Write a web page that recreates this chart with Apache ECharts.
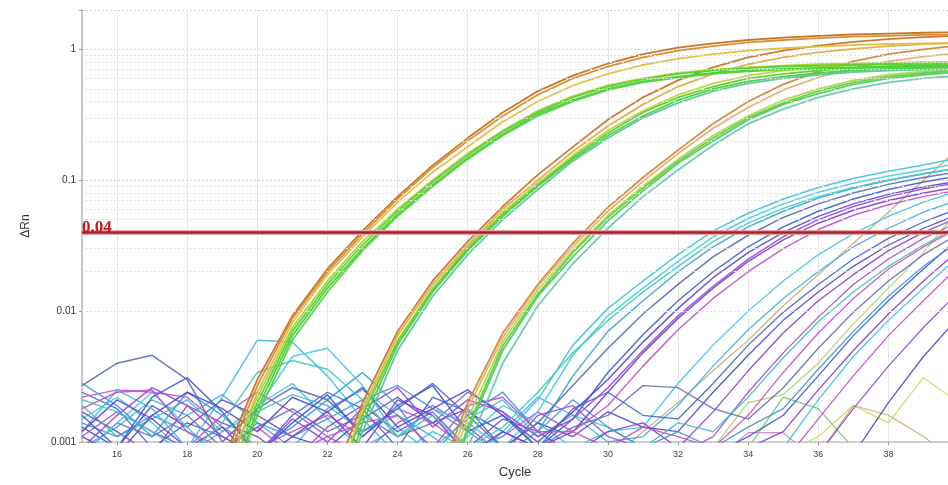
<!DOCTYPE html>
<html><head><meta charset="utf-8">
<script src="https://cdn.jsdelivr.net/npm/echarts@6/dist/echarts.min.js"></script>
<style>html,body{margin:0;padding:0;background:#fff}#c{width:948px;height:485px}</style>
</head><body><div id="c"></div>
<script>
// ---- data (each curve: [startCycle, values...]) ----
const xTicks = [16,18,20,22,24,26,28,30,32,34,36,38];
const yTicks = [0.001,0.01,0.1,1];
const threshold = 0.04;
const minorMultipliers = [2,3,4,5,6,7,8,9];

const groupA = [
  [19,0.0007,0.003,0.0092,0.021,0.041,0.075,0.13,0.21,0.33,0.48,0.63,0.78,0.92,1.03,1.11,1.18,1.23,1.27,1.3,1.32,1.34,1.35],
  [19,0.0006,0.0027,0.0088,0.02,0.039,0.072,0.125,0.2,0.31,0.45,0.6,0.74,0.87,0.98,1.06,1.13,1.18,1.22,1.25,1.27,1.29,1.3],
  [19,0.0005,0.0024,0.0082,0.019,0.037,0.068,0.115,0.18,0.28,0.4,0.53,0.65,0.76,0.85,0.92,0.98,1.02,1.05,1.08,1.1,1.11,1.12],
  [19,0.0005,0.0022,0.0075,0.017,0.034,0.06,0.1,0.16,0.24,0.34,0.44,0.53,0.6,0.66,0.7,0.73,0.75,0.77,0.78,0.79,0.8,0.8],
  [19,0.0004,0.002,0.007,0.016,0.032,0.058,0.097,0.155,0.235,0.33,0.43,0.52,0.59,0.65,0.69,0.72,0.74,0.75,0.76,0.77,0.77,0.78],
  [19,0.0003,0.0018,0.0065,0.015,0.03,0.055,0.092,0.148,0.225,0.32,0.41,0.5,0.57,0.62,0.66,0.69,0.71,0.72,0.73,0.74,0.74,0.75],
  [19,0.0003,0.0016,0.006,0.014,0.029,0.053,0.09,0.145,0.22,0.31,0.4,0.49,0.56,0.61,0.65,0.68,0.7,0.71,0.72,0.73,0.73,0.74]
];
const groupB = [
  [22,0.0004,0.002,0.007,0.017,0.034,0.063,0.11,0.18,0.29,0.43,0.58,0.73,0.87,0.98,1.07,1.14,1.2,1.24,1.27],
  [22,0.0003,0.0018,0.0065,0.016,0.032,0.06,0.1,0.165,0.26,0.38,0.52,0.65,0.77,0.87,0.95,1.01,1.06,1.1,1.12],
  [22,0.0003,0.0017,0.006,0.015,0.031,0.057,0.095,0.155,0.24,0.34,0.45,0.55,0.63,0.69,0.73,0.76,0.78,0.79,0.8],
  [22,0.0003,0.0016,0.0058,0.0145,0.03,0.055,0.092,0.15,0.23,0.33,0.43,0.52,0.6,0.65,0.69,0.72,0.74,0.75,0.76],
  [22,0.0002,0.0014,0.0055,0.014,0.029,0.053,0.09,0.145,0.22,0.31,0.41,0.5,0.57,0.62,0.66,0.69,0.71,0.72,0.73],
  [22,0.0002,0.0012,0.005,0.013,0.027,0.05,0.085,0.14,0.21,0.3,0.39,0.48,0.55,0.6,0.64,0.67,0.69,0.7,0.71]
];
const groupC = [
  [25,0.0004,0.002,0.0068,0.016,0.033,0.062,0.105,0.17,0.27,0.4,0.54,0.68,0.81,0.92,1.0,1.07],
  [25,0.0003,0.0018,0.0063,0.0155,0.031,0.058,0.098,0.16,0.25,0.36,0.49,0.61,0.72,0.81,0.88,0.94],
  [25,0.0003,0.0015,0.0058,0.0145,0.029,0.054,0.09,0.145,0.22,0.31,0.41,0.5,0.58,0.64,0.68,0.71],
  [25,0.0002,0.0013,0.0054,0.0135,0.028,0.052,0.087,0.14,0.21,0.3,0.39,0.48,0.56,0.62,0.66,0.69],
  [25,0.0002,0.0012,0.005,0.013,0.026,0.049,0.083,0.135,0.2,0.29,0.38,0.46,0.54,0.6,0.64,0.67],
  [25,0.0002,0.0009,0.004,0.011,0.023,0.043,0.075,0.12,0.185,0.27,0.35,0.43,0.5,0.56,0.6,0.63]
];
const groupD = [
  [15,0.0012,0.0025,0.0018,0.0009,0.0022,0.006,0.0058,0.0032,0.0015,0.0008,0.0012,0.0009,0.0011,0.0021,0.0055,0.0105,0.017,0.027,0.041,0.056,0.072,0.088,0.103,0.117,0.131,0.148],
  [15,0.0008,0.0014,0.0024,0.0013,0.0007,0.0018,0.0045,0.0052,0.0027,0.0011,0.0018,0.0014,0.0009,0.0017,0.0046,0.0092,0.015,0.024,0.037,0.051,0.066,0.081,0.095,0.108,0.12,0.135],
  [15,0.0028,0.0019,0.0011,0.0024,0.0016,0.0009,0.0013,0.0021,0.0034,0.0019,0.0008,0.0016,0.0024,0.0012,0.0032,0.007,0.012,0.02,0.031,0.044,0.058,0.073,0.087,0.1,0.112,0.124],
  [15,0.0027,0.004,0.0046,0.003,0.001,0.0018,0.0026,0.0021,0.0012,0.0018,0.0028,0.0016,0.0009,0.0014,0.0027,0.0052,0.0095,0.016,0.026,0.038,0.052,0.066,0.08,0.093,0.105,0.116],
  [15,0.0016,0.0009,0.0022,0.0031,0.0017,0.0008,0.0014,0.0023,0.0011,0.0019,0.0027,0.0012,0.0016,0.0009,0.0015,0.0034,0.0066,0.012,0.02,0.031,0.044,0.058,0.072,0.085,0.097,0.108],
  [15,0.0012,0.0021,0.0015,0.0009,0.0013,0.0007,0.0011,0.0017,0.0009,0.0021,0.0016,0.0008,0.0012,0.0009,0.0012,0.0024,0.0048,0.0088,0.015,0.024,0.035,0.047,0.059,0.07,0.08,0.089],
  [15,0.0009,0.0016,0.0026,0.0019,0.0011,0.0008,0.0015,0.001,0.0018,0.0026,0.0013,0.0021,0.0017,0.0011,0.0015,0.0026,0.005,0.0092,0.0155,0.025,0.037,0.05,0.063,0.075,0.086,0.096],
  [15,0.0018,0.0024,0.0025,0.0012,0.0009,0.0013,0.0008,0.0011,0.0014,0.0016,0.0009,0.0019,0.0022,0.0012,0.0012,0.0019,0.0038,0.0072,0.0125,0.02,0.03,0.042,0.054,0.065,0.075,0.084],
  [15,0.0011,0.0008,0.0016,0.0024,0.0018,0.0012,0.0022,0.0017,0.0026,0.0013,0.0018,0.0025,0.0016,0.001,0.0017,0.003,0.0058,0.0105,0.018,0.028,0.04,0.053,0.066,0.078,0.089,0.099],
  [15,0.0021,0.0017,0.0012,0.0008,0.0014,0.0034,0.0042,0.0036,0.0021,0.0011,0.0016,0.0009,0.0013,0.0024,0.0048,0.0085,0.014,0.022,0.034,0.047,0.061,0.075,0.088,0.1,0.112,0.124]
];
const groupE = [
  [15,0.0015,0.0022,0.0014,0.0008,0.0012,0.0019,0.0028,0.0015,0.0009,0.0013,0.0008,0.0011,0.0019,0.0014,0.0009,0.0012,0.0013,0.0028,0.0055,0.01,0.017,0.027,0.039,0.053,0.068,0.083],
  [15,0.0009,0.0013,0.0021,0.0016,0.0023,0.0014,0.0009,0.0018,0.0025,0.0016,0.0011,0.0007,0.0012,0.0022,0.0016,0.001,0.0011,0.0019,0.0038,0.0072,0.0125,0.02,0.031,0.043,0.057,0.071],
  [15,0.0024,0.0018,0.0009,0.0014,0.0011,0.0008,0.0016,0.0024,0.0018,0.0009,0.0022,0.0017,0.0012,0.0009,0.0018,0.0024,0.0016,0.0015,0.0028,0.0055,0.0098,0.016,0.025,0.036,0.048,0.061],
  [15,0.0013,0.0009,0.0019,0.0013,0.0021,0.0016,0.0011,0.0009,0.0015,0.0022,0.0014,0.0018,0.0009,0.0014,0.0011,0.0017,0.0013,0.0012,0.0024,0.0046,0.0085,0.014,0.022,0.032,0.043,0.055],
  [15,0.0017,0.0012,0.0008,0.0019,0.0014,0.0011,0.0007,0.0013,0.0019,0.0012,0.0017,0.0009,0.0015,0.0012,0.0008,0.0012,0.0014,0.0009,0.0017,0.0035,0.0068,0.012,0.019,0.029,0.04,0.052],
  [15,0.0011,0.0017,0.0012,0.0009,0.0016,0.0024,0.0017,0.0011,0.0008,0.0014,0.0019,0.0013,0.0008,0.0016,0.0019,0.0011,0.0009,0.0008,0.0011,0.0024,0.0048,0.009,0.016,0.025,0.036,0.048],
  [15,0.0022,0.0025,0.0024,0.0022,0.0013,0.0009,0.0012,0.0016,0.0011,0.0018,0.0014,0.0009,0.0011,0.0017,0.0012,0.0009,0.0013,0.0011,0.0009,0.0016,0.0034,0.0068,0.0125,0.021,0.031,0.043],
  [15,0.0019,0.0011,0.0015,0.0021,0.0012,0.0017,0.0023,0.0019,0.0012,0.0016,0.0009,0.0015,0.0021,0.0011,0.0016,0.0013,0.0009,0.0014,0.0012,0.0022,0.0044,0.0083,0.014,0.022,0.032,0.044],
  [15,0.0008,0.0014,0.0011,0.0016,0.0009,0.0013,0.0018,0.0012,0.0016,0.0011,0.0014,0.0024,0.0017,0.0009,0.0013,0.0016,0.0027,0.0026,0.0018,0.0015,0.0026,0.0052,0.0098,0.017,0.027,0.039],
  [15,0.0014,0.0011,0.0016,0.0012,0.0008,0.0014,0.0011,0.0015,0.0021,0.0027,0.0018,0.0012,0.0008,0.0012,0.0021,0.0013,0.0009,0.0012,0.0009,0.0013,0.0018,0.0036,0.007,0.013,0.022,0.034]
];
const groupF = [
  [33,0.0008,0.0011,0.0016,0.0032,0.0065,0.012,0.021,0.036],
  [34,0.0009,0.0012,0.0025,0.005,0.0095,0.017,0.029],
  [35,0.0007,0.0015,0.0032,0.0065,0.012,0.022],
  [35,0.0009,0.0021,0.0045,0.0085,0.015,0.026],
  [36,0.0008,0.0018,0.0038,0.0075,0.014],
  [37,0.0008,0.002,0.0045,0.009]
];
const groupMisc = [
  [30,0.0007,0.0012,0.002,0.0035,0.006,0.011,0.019,0.033,0.057,0.1,0.175],
  [33,0.0009,0.002,0.0023,0.004,0.008,0.015,0.028,0.06],
  [35,0.0008,0.0011,0.0019,0.0014,0.0031,0.002],
  [36,0.0008,0.0019,0.0016,0.0011,0.0007],
  [33,0.0007,0.00118,0.00118,0.0007],
  [34,0.0009,0.0022,0.0018,0.0009]
];

const colorsA = ['#c8701e','#d58a2c','#e0c040','#a8d23a','#5ccf2a','#3fcf45','#55d23a'];
const colorsB = ['#c9762a','#dfae48','#bcd640','#62cf30','#48cc50','#58c890'];
const colorsC = ['#cf8a3a','#e2b070','#b4d64a','#5fd040','#4ccc60','#6cc8b0'];
const colorsD = ['#3cc2da','#46cbe4','#3a9ee0','#5a6ab8','#3b5fd8','#7440d0','#9a48d8','#c050d0','#5a48d0','#40c8c0'];
const colorsE = ['#35c5dd','#40a8e8','#3a60d8','#4e44c8','#8040d0','#a048d0','#c84cc8','#3cc0b0','#6a6ab0','#4090e0'];
const colorsF = ['#3a58d0','#7a3cd0','#c04ccc','#38c0d8','#9048d0','#5048c8'];
const colorsMisc = ['#c8a070','#a8d060','#c8d850','#c8a868','#d080c8','#70c860'];

// ---- chart ----
function toSeries(group, colors, width, opacity, z) {
  return group.map((curve, k) => ({
    type: 'line', symbol: 'none', showSymbol: false, silent: true, z: z,
    lineStyle: { color: colors[k % colors.length], width: width, opacity: opacity },
    data: curve.slice(1).map((v, i) => [curve[0] + i, v])
  }));
}

const minorVals = [];
yTicks.forEach(d => minorMultipliers.forEach(m => {
  const v = +(d * m).toPrecision(3);
  if (v < 2) minorVals.push(v);
}));

const series = [
  { type: 'line', data: [], silent: true, z: 1,
    markLine: { silent: true, symbol: ['none','none'], animation: false, label: { show: false },
      lineStyle: { color: '#e3e3e3', type: [2,2], width: 1 },
      data: minorVals.map(v => ({ yAxis: v })) } }
];
series.push(...toSeries(groupMisc, colorsMisc, 1.2, 0.9, 2));
series.push(...toSeries(groupF, colorsF, 1.3, 0.9, 3));
series.push(...toSeries(groupE, colorsE, 1.3, 0.9, 3));
series.push(...toSeries(groupD, colorsD, 1.5, 0.9, 3));
series.push(...toSeries(groupC, colorsC, 1.8, 0.95, 4));
series.push(...toSeries(groupB, colorsB, 1.8, 0.95, 4));
series.push(...toSeries(groupA, colorsA, 1.8, 0.95, 4));
series.push({ type: 'line', data: [], silent: true, z: 10,
  markLine: { silent: true, symbol: ['none','none'], animation: false,
    data: [
      { yAxis: threshold, lineStyle: { color: '#e6a3a8', width: 5, type: 'solid' }, label: { show: false } },
      { yAxis: threshold, lineStyle: { color: '#a3232b', width: 2.5, type: 'solid' },
        label: { show: true, position: 'insideStartTop', formatter: String(threshold), distance: [0, -4],
          color: '#c8161e', fontFamily: 'Liberation Serif', fontWeight: 'bold', fontSize: 17 } }
    ] } });

const chart = echarts.init(document.getElementById('c'), null, { renderer: 'canvas' });
chart.setOption({
  animation: false,
  backgroundColor: '#ffffff',
  grid: { left: 82, right: 0, top: 10, bottom: 43, containLabel: false },
  xAxis: {
    type: 'value', min: 15, max: 39.7,
    name: 'Cycle', nameLocation: 'middle', nameGap: 24,
    nameTextStyle: { fontSize: 13, color: '#333', fontFamily: 'Liberation Sans' },
    axisLine: { show: true, onZero: false, lineStyle: { color: '#c4c4c4', width: 1.5 } },
    axisTick: { show: true, customValues: xTicks, length: 3, lineStyle: { color: '#999' } },
    axisLabel: { customValues: xTicks, fontSize: 9, color: '#444', margin: 8, fontFamily: 'Liberation Sans' },
    splitLine: { show: true, lineStyle: { color: '#e6e6e6', width: 1 } }
  },
  yAxis: {
    type: 'log', logBase: 10, min: 0.001, max: 2,
    name: 'ΔRn', nameLocation: 'middle', nameGap: 50, nameRotate: 90,
    nameTextStyle: { fontSize: 12, color: '#333', fontFamily: 'Liberation Sans' },
    axisLine: { show: true, lineStyle: { color: '#b4b4b4', width: 1.5 } },
    axisTick: { show: true, length: 3, lineStyle: { color: '#999' } },
    axisLabel: { fontSize: 10, color: '#333', margin: 6, fontFamily: 'Liberation Sans',
      formatter: v => {
        const hit = yTicks.find(t => Math.abs(Math.log10(v) - Math.log10(t)) < 1e-6);
        return hit === undefined ? '' : String(hit);
      } },
    splitLine: { show: true, lineStyle: { color: '#d2d2d2', type: [2,2], width: 1 } }
  },
  series: series
});
</script>
</body></html>
